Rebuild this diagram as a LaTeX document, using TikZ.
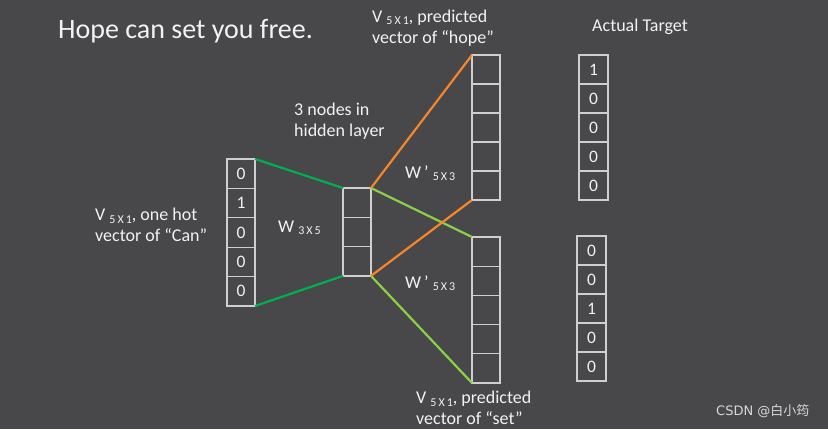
\documentclass[tikz,border=0pt]{standalone}
\usepackage{fontspec}
\setmainfont{Carlito}
\newfontfamily\cjkfont{Noto Sans CJK SC}
\definecolor{bg}{HTML}{48474A}
\definecolor{cellc}{HTML}{CFCFCF}
\definecolor{txt}{HTML}{F2F2F2}
\definecolor{dgreen}{HTML}{00B050}
\definecolor{lgreen}{HTML}{8CD048}
\definecolor{orng}{HTML}{F5872A}
\newcommand\dimsub[1]{\raisebox{-2.5pt}{\fontsize{12}{12}\selectfont #1}}
\begin{document}
\begin{tikzpicture}[x=1pt,y=-1pt,
  cell/.style={draw=cellc, line width=1.3pt, minimum width=28pt, minimum height=29.3pt,
    inner sep=0pt, outer sep=0pt, text=txt, font=\fontsize{17.5}{17.5}\selectfont, anchor=north west},
  lbl/.style={text=txt, font=\fontsize{18}{21}\selectfont, align=left, inner sep=0pt},
  wire/.style={line width=2.2pt}]
\fill[bg] (0,0) rectangle (828,429);
\useasboundingbox (0,0) rectangle (828,429);

% input vector
\foreach \v [count=\i] in {0,1,0,0,0}
  \node[cell, minimum height=29.4pt] (in\i) at (227,{159+(\i-1)*29.4}) {\v};
% hidden layer
\foreach \i in {1,2,3}
  \node[cell, minimum height=29.3pt] (h\i) at (343,{188+(\i-1)*29.3}) {};
% predicted hope
\foreach \i in {1,...,5}
  \node[cell, minimum height=29pt] (hp\i) at (472,{55+(\i-1)*29}) {};
% predicted set
\foreach \i in {1,...,5}
  \node[cell, minimum height=29.2pt] (st\i) at (472,{237+(\i-1)*29.2}) {};
% targets
\foreach \v [count=\i] in {1,0,0,0,0}
  \node[cell, minimum width=29pt, minimum height=29pt] (ta\i) at (579,{55+(\i-1)*29}) {\v};
\foreach \v [count=\i] in {0,0,1,0,0}
  \node[cell, minimum width=29pt, minimum height=29pt] (tb\i) at (577,{236+(\i-1)*29}) {\v};

% connectors
\draw[wire, dgreen] (in1.north east) -- (h1.north west);
\draw[wire, dgreen] (in5.south east) -- (h3.south west);
\draw[wire, lgreen] (h1.north east) -- (st1.north west);
\draw[wire, lgreen] (h3.south east) -- (st5.south west);
\draw[wire, orng] (h1.north east) -- (hp1.north west);
\draw[wire, orng] (h3.south east) -- (hp5.south west);

% labels
\node[lbl, anchor=west, font=\fontsize{28}{28}\selectfont] (title) at (58,31) {Hope can set you free.};
\node[lbl, anchor=center, font=\fontsize{18}{18}\selectfont] (acttgt) at (640,27) {Actual Target};
\node[lbl, anchor=west] (lhope) at (372,28) {V \dimsub{5\,X\,1}, predicted\\vector of “hope”};
\node[lbl, anchor=west] (lhid) at (294,121) {3 nodes in\\hidden layer};
\node[lbl, anchor=west] (lin) at (95,225) {V \dimsub{5\,X\,1}, one hot\\vector of “Can”};
\node[lbl, anchor=west] (lset) at (416,408) {V \dimsub{5\,X\,1}, predicted\\vector of “set”};
\node[lbl, anchor=west] (w1) at (278,228) {W \dimsub{3\,X\,5}};
\node[lbl, anchor=west] (w2) at (405,173) {W\,’ \dimsub{5\,X\,3}};
\node[lbl, anchor=west] (w3) at (405,283) {W\,’ \dimsub{5\,X\,3}};
\node[anchor=west, inner sep=0pt, text=txt!85!bg] (csdn) at (716,411) {\fontspec{DejaVu Sans}\fontsize{13}{13}\selectfont CSDN @\cjkfont 白小筠};
\end{tikzpicture}
\end{document}
